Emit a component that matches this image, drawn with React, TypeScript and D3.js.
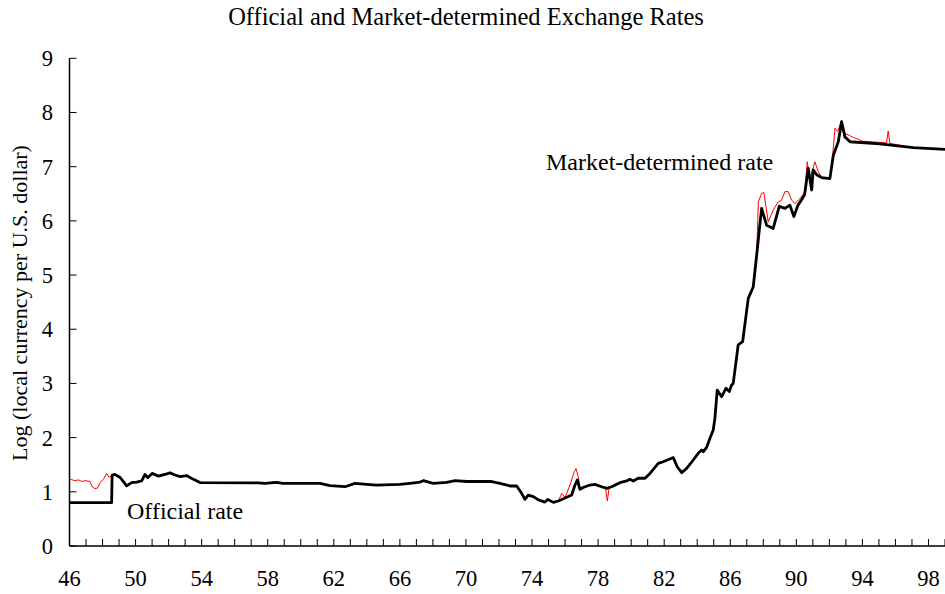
import React from "react";
import * as d3 from "d3";

const officialYears = [
  46.0, 48.55, 48.58, 48.75, 49.05, 49.46, 49.76, 50.07, 50.37, 50.57, 50.73, 51.0, 51.38, 51.78, 52.08, 52.39,
  52.69, 53.09, 53.5, 53.9, 57.4, 57.83, 58.54, 58.9, 60.86, 61.16, 61.77, 62.68, 63.28, 63.99, 64.6, 66.0,
  66.61, 67.22, 67.42, 68.02, 68.83, 69.34, 70.04, 71.56, 72.06, 72.67, 73.07, 73.37, 73.57, 73.77, 74.08,
  74.38, 74.78, 74.95, 75.29, 75.59, 76.1, 76.4, 76.6, 76.74, 76.9, 77.1, 77.5, 77.81, 78.21, 78.52, 78.82,
  79.32, 79.73, 79.93, 80.13, 80.43, 80.84, 81.14, 81.64, 81.94, 82.45, 82.55, 82.79, 83.06, 83.36, 83.76,
  84.06, 84.27, 84.37, 84.57, 84.77, 84.97, 85.07, 85.21, 85.48, 85.74, 85.94, 86.08, 86.18, 86.48, 86.75,
  87.09, 87.39, 87.6, 87.8, 87.9, 88.2, 88.4, 88.6, 88.97, 89.31, 89.61, 89.85, 90.1, 90.3, 90.5, 90.72,
  90.93, 91.02, 91.23, 91.53, 92.03, 92.24, 92.54, 92.74, 92.94, 93.25, 95.06, 97.08, 99.0,
];
const officialValues = [
  0.8, 0.8, 1.31, 1.32, 1.27, 1.11, 1.17, 1.18, 1.2, 1.32, 1.26, 1.34, 1.29, 1.32, 1.35, 1.31,
  1.28, 1.3, 1.23, 1.17, 1.165, 1.157, 1.175, 1.157, 1.157, 1.157, 1.113, 1.094, 1.157, 1.138, 1.125, 1.138,
  1.157, 1.18, 1.205, 1.157, 1.175, 1.205, 1.19, 1.19, 1.157, 1.107, 1.107, 0.972, 0.86, 0.94, 0.91,
  0.85, 0.81, 0.86, 0.805, 0.83, 0.898, 0.94, 1.125, 1.218, 1.046, 1.08, 1.125, 1.138, 1.094, 1.064, 1.094,
  1.168, 1.2, 1.23, 1.2, 1.25, 1.25, 1.34, 1.526, 1.555, 1.618, 1.63, 1.463, 1.353, 1.433, 1.587,
  1.71, 1.77, 1.74, 1.82, 1.987, 2.14, 2.355, 2.878, 2.755, 2.91, 2.85, 2.97, 3.0, 3.71, 3.77,
  4.57, 4.78, 5.37, 5.95, 6.23, 5.92, 5.89, 5.86, 6.27, 6.23, 6.29, 6.08, 6.29, 6.38, 6.48, 6.97,
  6.57, 6.94, 6.85, 6.8, 6.78, 7.21, 7.46, 7.83, 7.55, 7.46, 7.42, 7.35, 7.32,
];

const marketYears = [
  46.0, 46.33, 46.55, 46.74, 46.94, 47.24, 47.38, 47.54, 47.7, 47.85, 48.05, 48.25, 48.39, 48.55, 48.75,
  49.05, 49.46, 49.76, 50.07, 50.37, 50.57, 50.73, 51.0, 51.38, 51.78, 52.08, 52.39, 52.69, 53.09, 53.5,
  53.9, 57.4, 57.83, 58.54, 58.9, 60.86, 61.16, 61.77, 62.68, 63.28, 63.99, 64.6, 66.0, 66.61, 67.22, 67.42,
  68.02, 68.83, 69.34, 70.04, 71.56, 72.06, 72.67, 73.07, 73.37, 73.57, 73.77, 74.08, 74.38, 74.78, 74.95,
  75.29, 75.59, 75.8, 76.0, 76.3, 76.46, 76.56, 76.66, 76.8, 76.9, 77.1, 77.5, 77.81, 78.21, 78.45, 78.56,
  78.67, 78.82, 79.32, 79.73, 79.93, 80.13, 80.43, 80.84, 81.14, 81.64, 81.94, 82.45, 82.55, 82.79, 83.06,
  83.36, 83.76, 84.06, 84.27, 84.37, 84.57, 84.77, 84.97, 85.07, 85.21, 85.48, 85.74, 85.94, 86.08, 86.18,
  86.48, 86.75, 87.09, 87.39, 87.6, 87.7, 87.9, 88.04, 88.3, 88.6, 88.9, 89.1, 89.31, 89.51, 89.72, 89.92,
  90.22, 90.52, 90.66, 90.82, 91.12, 91.33, 91.53, 92.03, 92.14, 92.34, 92.5, 92.74, 92.94, 93.2, 93.45,
  93.65, 94.0, 95.46, 95.56, 95.66, 97.08, 99.0,
];
const marketValues = [
  1.236, 1.205, 1.22, 1.19, 1.205, 1.19, 1.09, 1.06, 1.07, 1.17, 1.23, 1.34, 1.27, 1.29, 1.32,
  1.27, 1.11, 1.17, 1.18, 1.2, 1.32, 1.26, 1.34, 1.29, 1.32, 1.35, 1.31, 1.28, 1.3, 1.23,
  1.17, 1.165, 1.157, 1.19, 1.157, 1.157, 1.157, 1.113, 1.094, 1.157, 1.138, 1.125, 1.138, 1.157, 1.18, 1.22,
  1.157, 1.175, 1.205, 1.19, 1.19, 1.157, 1.107, 1.107, 0.972, 0.86, 0.94, 0.91, 0.85, 0.81, 0.86,
  0.805, 0.83, 0.97, 0.9, 1.125, 1.28, 1.37, 1.43, 1.28, 1.08, 1.08, 1.125, 1.138, 1.094, 1.07, 0.83,
  1.08, 1.094, 1.168, 1.2, 1.23, 1.2, 1.25, 1.25, 1.34, 1.526, 1.555, 1.618, 1.63, 1.463, 1.353,
  1.433, 1.587, 1.71, 1.77, 1.74, 1.82, 1.987, 2.14, 2.355, 2.878, 2.755, 2.91, 2.85, 2.97, 3.0,
  3.71, 3.77, 4.57, 4.78, 5.37, 6.35, 6.51, 6.52, 5.98, 6.2, 6.35, 6.38, 6.54, 6.54, 6.38, 6.32,
  6.41, 6.54, 7.09, 6.75, 7.09, 6.91, 6.8, 6.78, 7.0, 7.71, 7.65, 7.85, 7.61, 7.58, 7.54,
  7.52, 7.47, 7.44, 7.66, 7.43, 7.35, 7.32,
];

const yTicks = [0, 1, 2, 3, 4, 5, 6, 7, 8, 9];
const xTickLabels = ["46", "50", "54", "58", "62", "66", "70", "74", "78", "82", "86", "90", "94", "98"];

const title = "Official and Market-determined Exchange Rates";
const yTitle = "Log (local currency per U.S. dollar)";
const officialLabel = "Official rate";
const marketLabel = "Market-determined rate";

const FONT = "'Liberation Serif', 'Times New Roman', serif";

export default function App() {
  const W = 945;
  const H = 594;
  const x = d3.scaleLinear().domain([46, 99]).range([69.5, 945]);
  const y = d3.scaleLinear().domain([0, 9]).range([546, 58.3]);

  const official = officialYears.map((yr, i) => [yr, officialValues[i]] as [number, number]);
  const market = marketYears.map((yr, i) => [yr, marketValues[i]] as [number, number]);
  const line = d3
    .line<[number, number]>()
    .x((d) => x(d[0]))
    .y((d) => y(d[1]));

  const minorYears = d3.range(47, 100);

  return (
    <svg
      width={W}
      height={H}
      style={{ position: "absolute", left: 0, top: 0, background: "#fff" }}
      fontFamily={FONT}
    >
      <text x={466} y={25} textAnchor="middle" fontSize={24.5} fill="#000">
        {title}
      </text>
      <text
        transform={`translate(27,${303}) rotate(-90)`}
        textAnchor="middle"
        fontSize={22}
        fill="#000"
      >
        {yTitle}
      </text>

      {/* axes */}
      <line x1={x(46)} x2={x(46)} y1={y(9)} y2={y(0)} stroke="#000" strokeWidth={1.5} />
      <line x1={x(46)} x2={x(99)} y1={y(0)} y2={y(0)} stroke="#000" strokeWidth={1.5} />
      {yTicks.map((t) => (
        <g key={"y" + t}>
          <line x1={x(46)} x2={x(46) + 7} y1={y(t)} y2={y(t)} stroke="#000" strokeWidth={1} />
          <text x={53} y={y(t) + 8} textAnchor="end" fontSize={22.5} fill="#000">
            {t}
          </text>
        </g>
      ))}
      {minorYears.map((yr) => (
        <line key={"xt" + yr} x1={x(yr)} x2={x(yr)} y1={y(0)} y2={y(0) - 7} stroke="#000" strokeWidth={1} />
      ))}
      {xTickLabels.map((lab) => (
        <text key={"xl" + lab} x={x(+lab)} y={586} textAnchor="middle" fontSize={22.5} fill="#000">
          {lab}
        </text>
      ))}

      <path d={line(market) || ""} fill="none" stroke="#ff0000" strokeWidth={1} strokeLinejoin="round" />
      <path d={line(official) || ""} fill="none" stroke="#000" strokeWidth={2.8} strokeLinejoin="round" />

      <text x={127} y={519} fontSize={24} fill="#000">
        {officialLabel}
      </text>
      <text x={546} y={170} fontSize={24} fill="#000">
        {marketLabel}
      </text>
    </svg>
  );
}
